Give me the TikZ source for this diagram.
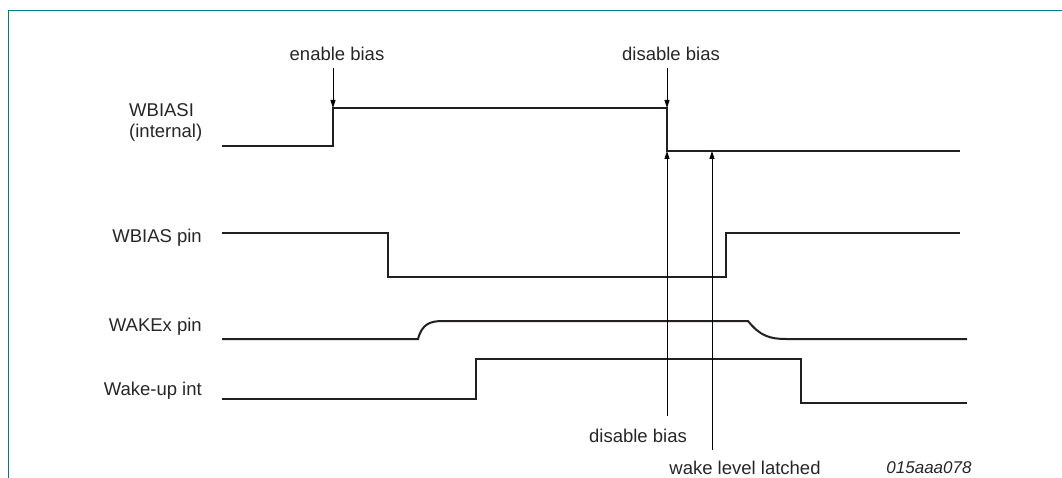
\documentclass[tikz,border=0pt]{standalone}
\usepackage{fontspec}
\setmainfont{Liberation Sans}
\usetikzlibrary{arrows.meta}
\definecolor{frameteal}{RGB}{0,122,142}
\definecolor{sig}{RGB}{35,31,32}
\tikzset{
  signal/.style={draw=sig, line width=2pt, line join=miter},
  marker/.style={draw=black, line width=0.8pt, -{Triangle[length=8pt,width=5pt]}},
  lbl/.style={inner sep=0pt, font=\fontsize{18.5}{22}\selectfont, text=black!85},
  frame/.style={draw=frameteal, line width=1.3pt}
}
\begin{document}
\begin{tikzpicture}[x=1pt,y=-1pt]
\useasboundingbox (0,0) rectangle (1062,478);
% frame
\coordinate (fA) at (8.5,478);
\coordinate (fB) at (8.5,10.5);
\coordinate (fC) at (1062,10.5);
\draw[frame] (fA) -- (fB) -- (fC);

% signal names
\node[lbl, anchor=west, align=left] (nWBIASI) at (129,122) {WBIASI\\[-1pt](internal)};
\node[lbl, anchor=east] (nWBIAS) at (202,238) {WBIAS pin};
\node[lbl, anchor=east] (nWAKE) at (202,327) {WAKEx pin};
\node[lbl, anchor=east] (nINT) at (202,391) {Wake-up int};

% event labels
\node[lbl] (tEn) at (337,54) {enable bias};
\node[lbl] (tDisTop) at (671,54) {disable bias};
\node[lbl] (tDisBot) at (638,436) {disable bias};
\node[lbl] (tLatch) at (745,468) {wake level latched};
\node[lbl, font=\fontsize{17}{20}\selectfont\itshape] (tId) at (929,468) {015aaa078};

% WBIASI
\coordinate (a0) at (222,146);
\coordinate (a1) at (333,146);
\coordinate (a2) at (333,108);
\coordinate (a3) at (667,108);
\coordinate (a4) at (667,151);
\coordinate (a5) at (960,151);
\coordinate (aL) at (712,151);
\draw[signal] (a0) -- (a1) -- (a2) -- (a3) -- (a4) -- (a5);

% WBIAS pin
\coordinate (b0) at (222,233);
\coordinate (b1) at (388,233);
\coordinate (b2) at (388,277);
\coordinate (b3) at (726,277);
\coordinate (b4) at (726,233);
\coordinate (b5) at (960,233);
\draw[signal] (b0) -- (b1) -- (b2) -- (b3) -- (b4) -- (b5);

% WAKEx pin
\coordinate (c0) at (222,339);
\coordinate (c1) at (418,339);
\coordinate (c2) at (443,321);
\coordinate (c3) at (748,321);
\coordinate (c4) at (786,339);
\coordinate (c5) at (967,339);
\draw[signal] (c0) -- (c1) .. controls (422,324) and (430,321) .. (c2) -- (c3)
  .. controls (760,336) and (770,339) .. (c4) -- (c5);

% Wake-up int
\coordinate (d0) at (222,399);
\coordinate (d1) at (476,399);
\coordinate (d2) at (476,359);
\coordinate (d3) at (801,359);
\coordinate (d4) at (801,403);
\coordinate (d5) at (967,403);
\draw[signal] (d0) -- (d1) -- (d2) -- (d3) -- (d4) -- (d5);

% event markers
\coordinate (sEn) at (333,68);
\coordinate (sDisTop) at (667,68);
\coordinate (sDisBot) at (667,416);
\coordinate (sLatch) at (712,450);
\draw[marker] (sEn) -- (a2);
\draw[marker] (sDisTop) -- (a3);
\draw[marker] (sDisBot) -- (a4);
\draw[marker] (sLatch) -- (aL);
\end{tikzpicture}
\end{document}
